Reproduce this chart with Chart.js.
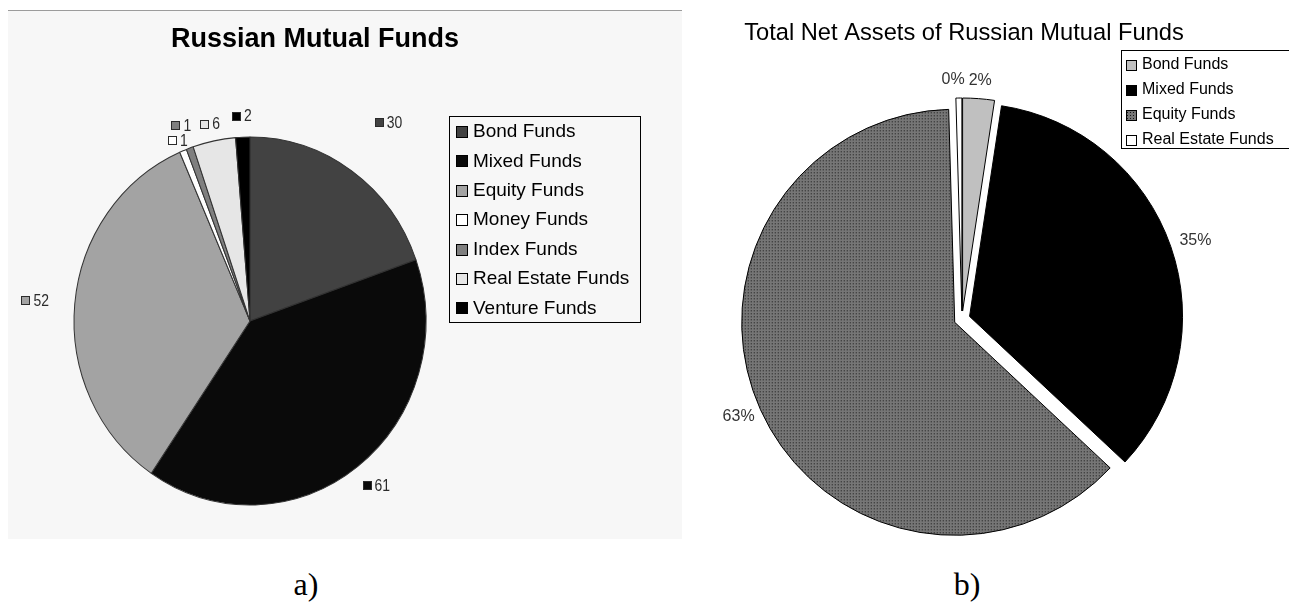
<!DOCTYPE html>
<html lang="en">
<head>
<meta charset="utf-8">
<title>Russian Mutual Funds</title>
<script src="https://cdn.jsdelivr.net/npm/chart.js@4.4.1/dist/chart.umd.min.js"></script>
<style>
  html, body { margin: 0; padding: 0; background: #fff; }
  body { position: relative; width: 1289px; height: 604px; overflow: hidden; }
  #panelA {
    position: absolute; left: 8px; top: 10px; width: 674px; height: 529px;
    background: #f7f7f7; border-top: 1px solid #9c9c9c; box-sizing: border-box;
  }
  #countChart { position: absolute; left: 8px; top: 10px; }
  #assetChart { position: absolute; left: 682px; top: 0; }
  .caption {
    position: absolute; top: 568px; width: 100px; text-align: center;
    font: 32px/32px "Liberation Serif", "Times New Roman", serif; color: #000;
  }
</style>
</head>
<body>
<div id="panelA"></div>
<canvas id="countChart" width="674" height="529"></canvas>
<canvas id="assetChart" width="607" height="560"></canvas>
<div class="caption" style="left:256px">a)</div>
<div class="caption" style="left:917px">b)</div>

<script>
// number of funds by type
const fundTypes = ['Bond Funds', 'Mixed Funds', 'Equity Funds', 'Money Funds',
  'Index Funds', 'Real Estate Funds', 'Venture Funds'];
const fundCounts = [30, 61, 52, 1, 1, 6, 2];

// share of total net assets, %
const assetTypes = ['Bond Funds', 'Mixed Funds', 'Equity Funds', 'Real Estate Funds'];
const assetShares = [2.4, 34.6, 62.6, 0.45];

const FONT = 'Arial, "Liberation Sans", sans-serif';

const countColors = ['#424242', '#0a0a0a', '#a3a3a3', '#ffffff', '#7f7f7f', '#e6e6e6', '#000000'];

// small dotted tile for the equity slice
function dottedFill() {
  const tile = document.createElement('canvas');
  tile.width = 3;
  tile.height = 3;
  const t = tile.getContext('2d');
  t.fillStyle = '#767676';
  t.fillRect(0, 0, 3, 3);
  t.fillStyle = '#161616';
  t.fillRect(1, 1, 1, 1);
  return t.createPattern(tile, 'repeat');
}
const assetColors = ['#c0c0c0', '#000000', dottedFill(), '#ffffff'];

// draws each arc itself so slices can be pulled out and the pie stretched
const explodedPie = {
  id: 'explodedPie',
  beforeDatasetsDraw(chart, args, o) {
    const ctx = chart.ctx;
    const sy = o.scaleY || 1;
    const ex = o.explode || 0;
    chart.getDatasetMeta(0).data.forEach(arc => {
      const mid = (arc.startAngle + arc.endAngle) / 2;
      ctx.save();
      ctx.translate(arc.x + Math.cos(mid) * ex, arc.y + Math.sin(mid) * ex * sy);
      ctx.scale(1, sy);
      ctx.translate(-arc.x, -arc.y);
      arc.draw(ctx);
      ctx.restore();
    });
    return false;
  }
};

// value labels outside the slices
const sliceLabels = {
  id: 'sliceLabels',
  afterDraw(chart, args, o) {
    const ctx = chart.ctx;
    const meta = chart.getDatasetMeta(0);
    const ds = chart.data.datasets[0];
    const values = ds.data;
    const total = values.reduce((a, b) => a + b, 0);
    const sy = o.scaleY || 1;
    const placed = [];
    ctx.save();
    ctx.font = o.font;
    ctx.textBaseline = 'middle';
    ctx.textAlign = 'left';
    meta.data.forEach((arc, i) => {
      const text = o.percent ? Math.round(values[i] / total * 100) + '%' : String(values[i]);
      const tw = ctx.measureText(text).width * o.squeeze;
      const w = (o.keySize ? o.keySize + o.keyGap : 0) + tw;
      const h = o.height;
      const mid = (arc.startAngle + arc.endAngle) / 2;
      const dx = Math.cos(mid), dy = Math.sin(mid);
      const dist = arc.outerRadius + (o.explode || 0) + o.gaps[i];
      let cx = arc.x + dx * dist + dx * w / 2;
      let cy = arc.y + dy * dist * sy + dy * h / 2;
      // nudge away from labels already placed
      for (const p of placed) {
        const ox = Math.min(cx + w / 2, p.x + p.w / 2) - Math.max(cx - w / 2, p.x - p.w / 2) + o.pad;
        const oy = Math.min(cy + h / 2, p.y + p.h / 2) - Math.max(cy - h / 2, p.y - p.h / 2) + o.pad;
        if (ox > 0 && oy > 0) {
          if (ox < oy) cx += cx < p.x ? -ox : ox;
          else cy += cy < p.y ? -oy : oy;
        }
      }
      placed.push({x: cx, y: cy, w, h});

      let left = cx - w / 2;
      if (o.keySize) {
        const k = o.keySize;
        const kx = Math.round(left), ky = Math.round(cy - k / 2);
        ctx.fillStyle = ds.backgroundColor[i];
        ctx.fillRect(kx, ky, k, k);
        ctx.strokeStyle = o.color;
        ctx.lineWidth = 1;
        ctx.strokeRect(kx + 0.5, ky + 0.5, k - 1, k - 1);
        left += k + o.keyGap;
      }
      ctx.save();
      ctx.translate(left, cy);
      ctx.scale(o.squeeze, 1);
      ctx.fillStyle = o.color;
      ctx.fillText(text, 0, 0);
      ctx.restore();
    });
    ctx.restore();
  }
};

// framed legend
const boxedLegend = {
  id: 'boxedLegend',
  afterDraw(chart, args, o) {
    const ctx = chart.ctx;
    const ds = chart.data.datasets[0];
    ctx.save();
    ctx.strokeStyle = '#000';
    ctx.lineWidth = 1;
    ctx.strokeRect(o.left + 0.5, o.top + 0.5, o.width, o.height);
    ctx.font = o.font;
    ctx.textBaseline = 'middle';
    ctx.textAlign = 'left';
    chart.data.labels.forEach((label, i) => {
      const y = o.top + o.firstRow + i * o.rowHeight;
      const ky = Math.round(y - o.keySize / 2);
      ctx.fillStyle = ds.backgroundColor[i];
      ctx.fillRect(o.keyX, ky, o.keySize, o.keySize);
      ctx.strokeRect(o.keyX + 0.5, ky + 0.5, o.keySize - 1, o.keySize - 1);
      ctx.fillStyle = '#000';
      ctx.fillText(label, o.textX, y);
    });
    ctx.restore();
  }
};

const heading = {
  id: 'heading',
  afterDraw(chart, args, o) {
    const ctx = chart.ctx;
    ctx.save();
    ctx.font = o.font;
    ctx.fillStyle = '#000';
    ctx.textAlign = 'center';
    ctx.textBaseline = 'alphabetic';
    ctx.fillText(o.text, o.x, o.y);
    ctx.restore();
  }
};

new Chart(document.getElementById('countChart'), {
  type: 'pie',
  data: {
    labels: fundTypes,
    datasets: [{
      data: fundCounts,
      backgroundColor: countColors,
      borderColor: '#333',
      borderWidth: 1,
      radius: 176,
      offset: 0,
      hoverOffset: 0
    }]
  },
  options: {
    responsive: false,
    animation: false,
    events: [],
    devicePixelRatio: 1,
    layout: { padding: { left: 0, right: 190, top: 93, bottom: 0 } },
    plugins: {
      legend: { display: false },
      tooltip: { enabled: false },
      explodedPie: { scaleY: 184 / 176, explode: 0 },
      sliceLabels: {
        font: '17px ' + FONT, color: '#2b2b2b', squeeze: 0.82, height: 13,
        keySize: 9, keyGap: 3, pad: 2, scaleY: 184 / 176,
        gaps: [50, 17, 26, 4, 15, 10, 14]
      },
      boxedLegend: {
        left: 441, top: 106, width: 191, height: 206,
        firstRow: 16, rowHeight: 29.4, keyX: 448, keySize: 12, textX: 465,
        font: '19px ' + FONT
      },
      heading: { text: 'Russian Mutual Funds', font: 'bold 27px ' + FONT, x: 307, y: 37 }
    }
  },
  plugins: [explodedPie, sliceLabels, boxedLegend, heading]
});

new Chart(document.getElementById('assetChart'), {
  type: 'pie',
  data: {
    labels: assetTypes,
    datasets: [{
      data: assetShares,
      backgroundColor: assetColors,
      borderColor: '#000',
      borderWidth: 1,
      radius: 213,
      offset: 0,
      hoverOffset: 0
    }]
  },
  options: {
    responsive: false,
    animation: false,
    events: [],
    devicePixelRatio: 1,
    layout: { padding: { left: 0, right: 47, top: 78, bottom: 0 } },
    plugins: {
      legend: { display: false },
      tooltip: { enabled: false },
      explodedPie: { explode: 8 },
      sliceLabels: {
        font: '16px ' + FONT, color: '#333', squeeze: 1, height: 16,
        keySize: 0, keyGap: 0, pad: 4, explode: 8, percent: true,
        gaps: [10, 10, 8, 10]
      },
      boxedLegend: {
        left: 439, top: 50, width: 200, height: 98,
        firstRow: 15, rowHeight: 25, keyX: 444, keySize: 11, textX: 460,
        font: '16px ' + FONT
      },
      heading: {
        text: 'Total Net Assets of Russian Mutual Funds',
        font: '23.7px ' + FONT, x: 282, y: 40
      }
    }
  },
  plugins: [explodedPie, sliceLabels, boxedLegend, heading]
});
</script>
</body>
</html>
